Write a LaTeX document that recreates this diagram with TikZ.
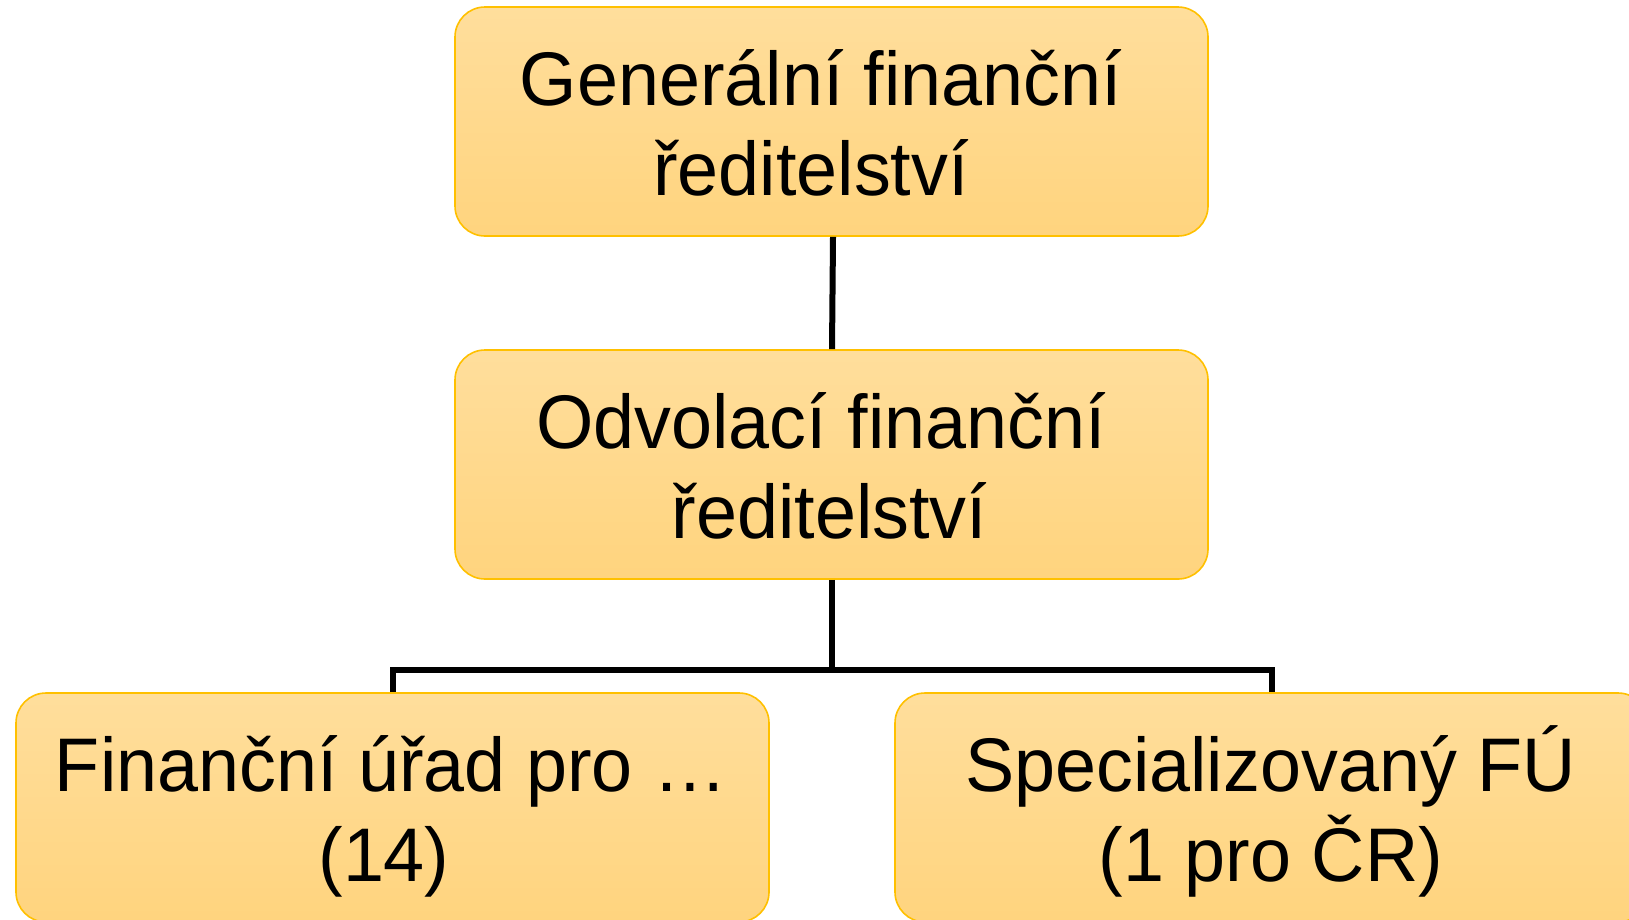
\documentclass[tikz,border=0pt]{standalone}
\usepackage{fontspec}
\setmainfont{Liberation Sans}[FakeStretch=0.97]
\definecolor{boxtop}{RGB}{255,222,156}
\definecolor{boxbot}{RGB}{255,212,126}
\definecolor{boxline}{RGB}{255,192,0}
\tikzset{
  orgbox/.style={rounded corners=30pt, draw=boxline, line width=1.6pt,
    top color=boxtop, bottom color=boxbot, minimum width=753pt,
    minimum height=229pt, inner sep=0pt},
  lbl/.style={anchor=base, inner sep=0pt, font=\fontsize{76}{87}\selectfont},
  conn/.style={line width=6pt, black, line join=miter}
}
\begin{document}
\begin{tikzpicture}[x=1pt,y=-1pt]
\useasboundingbox (0,0) rectangle (1629,919);
\clip (0,0) rectangle (1629,919);
\node[orgbox] (gfr) at (831.5,121.5) {};
\node[orgbox] (ofr) at (831.5,464.5) {};
\node[orgbox] (fu) at (392.5,807.5) {};
\node[orgbox] (sfu) at (1271.5,807.5) {};
\coordinate (bar) at (0,669.7);
\draw[conn] ([xshift=1.5pt]gfr.south) -- ([xshift=0.5pt]ofr.north);
\draw[conn] (ofr.south) -- (ofr.south |- bar);
\draw[conn] (fu.north) -- (fu.north |- bar) -- (sfu.north |- bar) -- (sfu.north);
\node[lbl] (g1) at (821,105) {Generální finanční};
\node[lbl] (g2) at (811,195) {ředitelství};
\node[lbl] (o1) at (821,448) {Odvolací finanční};
\node[lbl] (o2) at (829.5,538) {ředitelství};
\node[lbl] (f1) at (391,791) {Finanční úřad pro …};
\node[lbl] (f2) at (384,881) {(14)};
\node[lbl] (s1) at (1270.5,791) {Specializovaný FÚ};
\node[lbl] (s2) at (1271,881) {(1 pro ČR)};
\end{tikzpicture}
\end{document}
